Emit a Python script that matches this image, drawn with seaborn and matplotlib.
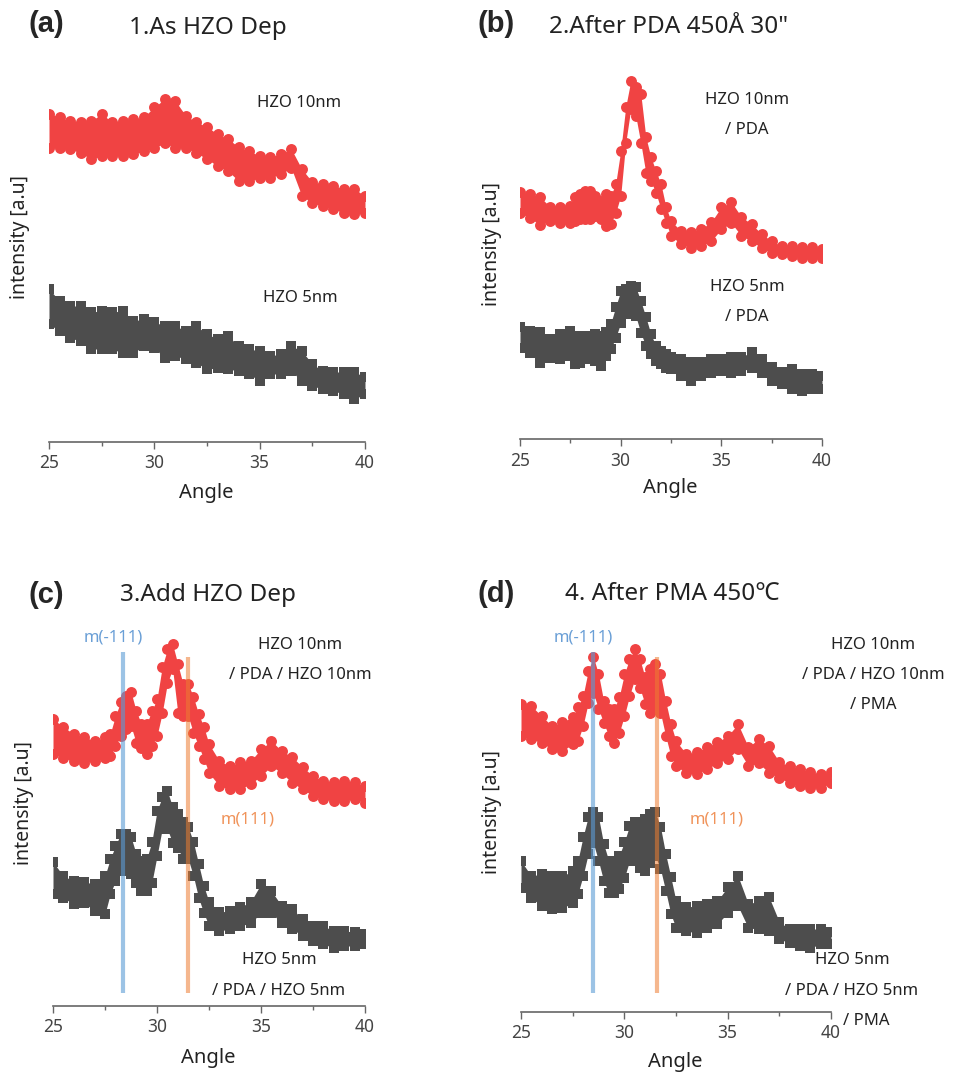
import numpy as np
import pandas as pd
import seaborn as sns
import matplotlib.pyplot as plt
from matplotlib.ticker import MultipleLocator

# angle grids (deg)
angle_a = [25, 25.5, 26, 26.5, 27, 27.5, 28, 28.5, 29, 29.5, 30, 30.5, 31, 31.5, 32, 32.5,
           33, 33.5, 34, 34.5, 35, 35.5, 36, 36.5, 37, 37.5, 38, 38.5, 39, 39.5, 40]
angle_pk = [25, 25.5, 26, 26.5, 27, 27.5, 27.75, 28, 28.25, 28.5, 28.75, 29, 29.25, 29.5, 29.75,
            30, 30.25, 30.5, 30.75, 31, 31.25, 31.5, 31.75, 32, 32.25, 32.5, 33, 33.5, 34, 34.5,
            35, 35.5, 36, 36.5, 37, 37.5, 38, 38.5, 39, 39.5, 40]

# intensity [a.u.] - upper / lower edge of the noisy scans
a10_top = [328, 325, 321, 320, 321, 328, 320, 321, 323, 325, 335, 343, 341, 326, 320, 315,
           308, 303, 295, 291, 286, 285, 288, 293, 273, 260, 258, 256, 253, 253, 246]
a10_bot = [294, 294, 293, 289, 283, 286, 286, 286, 288, 291, 294, 299, 294, 294, 289, 283,
           276, 271, 261, 261, 264, 264, 268, 274, 246, 239, 236, 233, 229, 228, 229]
a5_top = [153, 141, 136, 136, 130, 131, 130, 131, 121, 123, 120, 116, 116, 111, 116, 108,
          103, 106, 96, 93, 91, 86, 88, 96, 91, 78, 71, 70, 70, 70, 65]
a5_bot = [118, 111, 104, 101, 93, 93, 93, 89, 89, 96, 94, 84, 86, 83, 79, 73,
          74, 73, 71, 68, 61, 68, 68, 71, 61, 56, 53, 51, 48, 43, 48]

b10_top = [247, 245, 242, 232, 232, 233, 242, 245, 248, 248, 243, 238, 245, 243, 255,
           288, 332, 358, 352, 345, 302, 282, 268, 255, 232, 218, 208, 207, 210, 217,
           232, 237, 222, 215, 205, 198, 193, 193, 192, 192, 190]
b10_bot = [226, 221, 214, 218, 216, 216, 218, 220, 220, 220, 223, 220, 213, 215, 226,
           243, 296, 330, 323, 296, 266, 258, 246, 230, 216, 203, 195, 191, 193, 198,
           210, 216, 203, 198, 191, 186, 185, 183, 181, 181, 181]
b5_top = [112, 108, 107, 100, 105, 108, 103, 103, 100, 103, 105, 103, 107, 115, 132,
          148, 150, 153, 152, 138, 122, 105, 93, 88, 85, 82, 80, 77, 77, 80,
          80, 82, 82, 87, 80, 72, 67, 70, 65, 65, 63]
b5_bot = [91, 86, 76, 81, 80, 83, 75, 76, 80, 80, 78, 73, 83, 90, 101,
          116, 125, 130, 123, 106, 93, 85, 78, 75, 71, 70, 63, 58, 63, 66,
          68, 66, 68, 71, 66, 58, 55, 50, 48, 50, 50]

c10_top = [287, 279, 272, 269, 265, 269, 272, 290, 304, 310, 314, 295, 282, 282, 295,
           307, 339, 357, 362, 342, 322, 322, 309, 292, 279, 262, 245, 240, 244, 245,
           257, 265, 255, 249, 239, 230, 225, 224, 225, 224, 220]
c10_bot = [252, 248, 245, 243, 245, 248, 250, 260, 270, 277, 280, 263, 258, 252, 260,
           270, 293, 323, 337, 293, 290, 290, 273, 260, 247, 233, 220, 217, 217, 222,
           230, 240, 233, 223, 217, 210, 207, 205, 205, 207, 203]
c5_top = [144, 130, 125, 124, 122, 130, 147, 160, 172, 172, 169, 152, 145, 147, 164,
          195, 209, 215, 199, 192, 184, 179, 164, 142, 120, 104, 94, 95, 99, 104,
          122, 115, 100, 97, 87, 80, 80, 75, 75, 74, 72]
c5_bot = [112, 108, 102, 103, 95, 92, 112, 125, 135, 140, 132, 123, 115, 115, 123,
          150, 177, 177, 163, 158, 147, 147, 130, 108, 93, 80, 75, 77, 80, 83,
          93, 93, 83, 77, 70, 65, 62, 58, 60, 60, 62]

d10_top = [308, 306, 296, 286, 290, 295, 305, 316, 341, 355, 338, 311, 303, 303, 315,
           338, 353, 363, 353, 335, 343, 348, 338, 311, 288, 271, 258, 260, 265, 270,
           276, 288, 265, 273, 266, 250, 246, 243, 240, 238, 240]
d10_bot = [276, 273, 269, 263, 261, 268, 271, 286, 309, 319, 303, 289, 276, 269, 279,
           296, 316, 333, 324, 308, 299, 303, 299, 276, 256, 246, 239, 238, 243, 249,
           253, 263, 246, 249, 239, 234, 229, 226, 224, 224, 229]
d5_top = [151, 136, 138, 136, 136, 141, 151, 175, 195, 200, 195, 168, 151, 150, 156,
          170, 186, 190, 188, 193, 198, 200, 185, 158, 135, 111, 105, 106, 108, 111,
          125, 136, 108, 111, 115, 90, 83, 83, 83, 83, 80]
d5_bot = [124, 114, 106, 103, 104, 109, 118, 136, 158, 169, 151, 131, 119, 119, 123,
          134, 151, 151, 144, 141, 149, 156, 143, 121, 98, 84, 81, 79, 84, 88,
          99, 106, 84, 83, 81, 73, 69, 66, 64, 68, 68]

# monoclinic reference peaks (deg)
m_neg111_c, m_111_c = 28.37, 31.47
m_neg111_d, m_111_d = 28.47, 31.58

RED = '#f04343'
GRAY = '#4d4d4d'
BLUE = '#5b9bd5'
ORANGE = '#ed7d31'

sns.set_theme(style='white')
plt.rcParams['font.family'] = ['Noto Sans', 'Noto Sans CJK KR', 'DejaVu Sans']

FW, FH = 954, 1072
fig = plt.figure(figsize=(FW / 100, FH / 100), dpi=100)


def ftext(x, y, s, **kw):
    kw.setdefault('ha', 'center')
    kw.setdefault('va', 'center')
    fig.text(x / FW, 1 - y / FH, s, **kw)


def make_ax(left, right, bottom, top):
    ax = fig.add_axes([left / FW, 1 - bottom / FH, (right - left) / FW, (bottom - top) / FH])
    ax.set_xlim(25, 40)
    ax.set_ylim(0, bottom - top)
    for s in ['left', 'right', 'top']:
        ax.spines[s].set_visible(False)
    ax.spines['bottom'].set_color('#666666')
    ax.spines['bottom'].set_linewidth(1.2)
    ax.set_xticks([25, 30, 35, 40])
    ax.xaxis.set_minor_locator(MultipleLocator(2.5))
    ax.tick_params(axis='x', which='major', bottom=True, direction='out', length=5, width=1,
                   color='#666666', labelsize=12.5, labelcolor='#444444', pad=4)
    ax.tick_params(axis='x', which='minor', bottom=True, direction='out', length=3, width=1,
                   color='#666666')
    ax.set_yticks([])
    ax.patch.set_alpha(0)
    return ax


def band(ax, angle, top, bot, color, marker):
    df = pd.DataFrame({'angle': angle, 'top': top, 'bottom': bot})
    ax.fill_between(df['angle'], df['bottom'], df['top'], color=color, lw=0)
    for col in ['top', 'bottom']:
        sns.scatterplot(data=df, x='angle', y=col, ax=ax, color=color, marker=marker,
                        s=62, linewidth=0, legend=False)
    ax.set_xlabel('')
    ax.set_ylabel('')


ax_a = make_ax(49, 365, 442, 85)
band(ax_a, angle_a, a10_top, a10_bot, RED, 'o')
band(ax_a, angle_a, a5_top, a5_bot, GRAY, 's')

ax_b = make_ax(520, 822, 439, 70)
band(ax_b, angle_pk, b10_top, b10_bot, RED, 'o')
band(ax_b, angle_pk, b5_top, b5_bot, GRAY, 's')

ax_c = make_ax(53, 365, 1006, 630)
band(ax_c, angle_pk, c10_top, c10_bot, RED, 'o')
band(ax_c, angle_pk, c5_top, c5_bot, GRAY, 's')
ax_c.vlines(m_neg111_c, 13, 354, color=BLUE, lw=3, alpha=0.6, zorder=5)
ax_c.vlines(m_111_c, 13, 349, color=ORANGE, lw=3, alpha=0.55, zorder=5)

ax_d = make_ax(521, 831, 1012, 630)
band(ax_d, angle_pk, d10_top, d10_bot, RED, 'o')
band(ax_d, angle_pk, d5_top, d5_bot, GRAY, 's')
ax_d.vlines(m_neg111_d, 19, 360, color=BLUE, lw=3, alpha=0.6, zorder=5)
ax_d.vlines(m_111_d, 19, 355, color=ORANGE, lw=3, alpha=0.55, zorder=5)

# panel letters and titles
bold = dict(family=['Liberation Sans', 'DejaVu Sans'], fontweight='bold', fontsize=21, ha='left')
ftext(29, 24, '(a)', **bold)
ftext(478, 24, '(b)', **bold)
ftext(29, 595, '(c)', **bold)
ftext(478, 594, '(d)', **bold)
title_kw = dict(fontsize=17.5, color='#222222')
ftext(208, 28, '1.As HZO Dep', **title_kw)
ftext(669, 27, '2.After PDA 450Å 30"', **title_kw)
ftext(208, 595, '3.Add HZO Dep', **title_kw)
ftext(672, 594, '4. After PMA 450℃', **title_kw)

# axis labels
lab_kw = dict(fontsize=14.5, color='#222222')
ftext(206, 493, 'Angle', **lab_kw)
ftext(670, 488, 'Angle', **lab_kw)
ftext(208, 1058, 'Angle', **lab_kw)
ftext(675, 1062, 'Angle', **lab_kw)
ylab_kw = dict(fontsize=14, color='#222222', rotation=90)
ftext(20, 237, 'intensity [a.u]', **ylab_kw)
ftext(492, 244, 'intensity [a.u]', **ylab_kw)
ftext(24, 803, 'intensity [a.u]', **ylab_kw)
ftext(492, 812, 'intensity [a.u]', **ylab_kw)

# sample annotations
ann = dict(fontsize=12, color='#222222')
ftext(299, 103, 'HZO 10nm', **ann)
ftext(300, 298, 'HZO 5nm', **ann)
ftext(747, 100, 'HZO 10nm', **ann)
ftext(747, 130, '/ PDA', **ann)
ftext(747, 287, 'HZO 5nm', **ann)
ftext(747, 317, '/ PDA', **ann)
ftext(300, 645, 'HZO 10nm', **ann)
ftext(300, 675, '/ PDA / HZO 10nm', **ann)
ftext(279, 960, 'HZO 5nm', **ann)
ftext(279, 991, '/ PDA / HZO 5nm', **ann)
ftext(873, 645, 'HZO 10nm', **ann)
ftext(873, 675, '/ PDA / HZO 10nm', **ann)
ftext(873, 705, '/ PMA', **ann)
ftext(852, 960, 'HZO 5nm', **ann)
ftext(852, 991, '/ PDA / HZO 5nm', **ann)
ftext(866, 1021, '/ PMA', **ann)

# peak labels
ftext(113, 638, 'm(-111)', fontsize=12, color='#6a9fd6')
ftext(583, 638, 'm(-111)', fontsize=12, color='#6a9fd6')
ftext(248, 820, 'm(111)', fontsize=12, color='#f0935a')
ftext(717, 820, 'm(111)', fontsize=12, color='#f0935a')

fig.savefig('out.png', dpi=100, facecolor='white')
